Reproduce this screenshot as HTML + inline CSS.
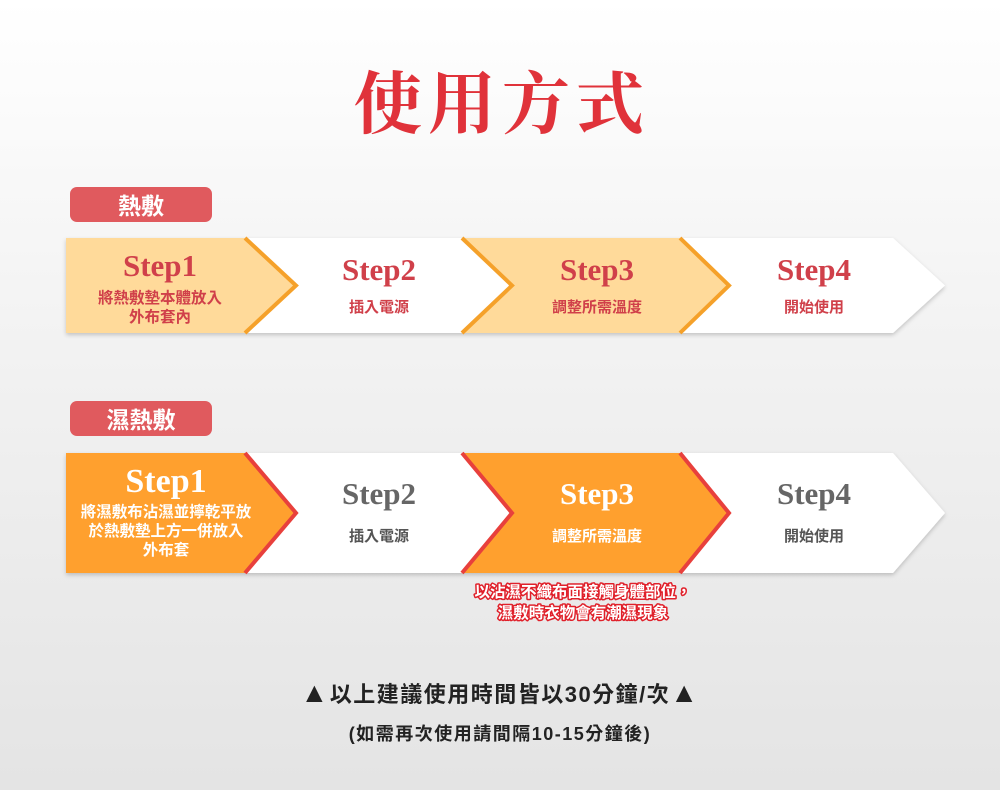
<!DOCTYPE html>
<html><head><meta charset="utf-8"><style>
html,body{margin:0;padding:0}
body{width:1000px;height:790px;overflow:hidden;background:linear-gradient(#ffffff 0%,#f3f3f3 40%,#e4e4e4 100%);}
svg text{font-family:"Liberation Sans","Noto Sans CJK TC",sans-serif;font-weight:bold}
.st{font-family:"Liberation Serif","Noto Serif CJK SC",serif !important;font-size:31px}
</style></head><body>
<svg width="1000" height="790" xmlns="http://www.w3.org/2000/svg">
<defs><filter id="sh" x="-5%" y="-10%" width="110%" height="130%"><feDropShadow dx="0" dy="2" stdDeviation="2" flood-color="#000" flood-opacity="0.2"/></filter></defs>
<text x="502" y="128" text-anchor="middle" font-size="68" fill="#E0323A" style="font-family:'Noto Serif CJK SC',serif;letter-spacing:6px">使用方式</text>

<rect x="70" y="187" width="142" height="35" rx="7" fill="#E05A5E"/>
<text x="141" y="214" text-anchor="middle" font-size="23" fill="#fff">熱敷</text>

<g filter="url(#sh)">
<polygon points="66,238 893,238 945,285.5 893,333 66,333" fill="#fff"/>
</g>
<polygon points="66,238 245,238 297,285.5 245,333 66,333" fill="#FFDA9A"/>
<polygon points="462,238 680,238 730,285.5 680,333 462,333 513,285.5" fill="#FFDA9A"/>
<g fill="none" stroke="#F5A12A" stroke-width="4">
<polyline points="245,238 296,285.5 245,333"/>
<polyline points="462,238 512,285.5 462,333"/>
<polyline points="680,238 729,285.5 680,333"/>
</g>
<text class="st" x="160" y="276" text-anchor="middle" fill="#D0404A">Step1</text>
<text x="160" y="303" text-anchor="middle" font-size="15.5" fill="#D0404A">將熱敷墊本體放入</text>
<text x="160" y="322" text-anchor="middle" font-size="15.5" fill="#D0404A">外布套內</text>
<text class="st" x="379" y="280" text-anchor="middle" fill="#D0404A">Step2</text>
<text x="379" y="312" text-anchor="middle" font-size="15" fill="#D0404A">插入電源</text>
<text class="st" x="597" y="280" text-anchor="middle" fill="#D0404A">Step3</text>
<text x="597" y="312" text-anchor="middle" font-size="15" fill="#D0404A">調整所需溫度</text>
<text class="st" x="814" y="280" text-anchor="middle" fill="#D0404A">Step4</text>
<text x="814" y="312" text-anchor="middle" font-size="15" fill="#D0404A">開始使用</text>

<rect x="70" y="401" width="142" height="35" rx="7" fill="#E05A5E"/>
<text x="141" y="428" text-anchor="middle" font-size="23" fill="#fff">濕熱敷</text>

<g filter="url(#sh)">
<polygon points="66,453 893,453 945,513 893,573 66,573" fill="#fff"/>
</g>
<polygon points="66,453 245,453 297,513 245,573 66,573" fill="#FFA02E"/>
<polygon points="462,453 680,453 730,513 680,573 462,573 513,513" fill="#FFA02E"/>
<g fill="none" stroke="#E8403C" stroke-width="4">
<polyline points="245,453 296,513 245,573"/>
<polyline points="462,453 512,513 462,573"/>
<polyline points="680,453 729,513 680,573"/>
</g>
<text class="st" x="166" y="492" text-anchor="middle" fill="#fff" style="font-size:34px">Step1</text>
<text x="166" y="517" text-anchor="middle" font-size="15.5" fill="#fff">將濕敷布沾濕並擰乾平放</text>
<text x="166" y="536" text-anchor="middle" font-size="15.5" fill="#fff">於熱敷墊上方一併放入</text>
<text x="166" y="555" text-anchor="middle" font-size="15.5" fill="#fff">外布套</text>
<text class="st" x="379" y="504" text-anchor="middle" fill="#666">Step2</text>
<text x="379" y="541" text-anchor="middle" font-size="15" fill="#555">插入電源</text>
<text class="st" x="597" y="504" text-anchor="middle" fill="#fff">Step3</text>
<text x="597" y="541" text-anchor="middle" font-size="15" fill="#fff">調整所需溫度</text>
<text class="st" x="814" y="504" text-anchor="middle" fill="#666">Step4</text>
<text x="814" y="541" text-anchor="middle" font-size="15" fill="#555">開始使用</text>

<g font-size="15.5" text-anchor="middle" fill="#fff" stroke="#E0202A" stroke-width="3" paint-order="stroke" stroke-linejoin="round">
<text x="583" y="597">以沾濕不織布面接觸身體部位，</text>
<text x="583" y="618">濕敷時衣物會有潮濕現象</text>
</g>

<text x="500" y="702" text-anchor="middle" font-size="22" fill="#222" style="letter-spacing:1.5px"><tspan font-size="28">▲</tspan>以上建議使用時間皆以30分鐘/次<tspan font-size="28">▲</tspan></text>
<text x="500" y="740" text-anchor="middle" font-size="18" fill="#222" style="letter-spacing:1.5px">(如需再次使用請間隔10-15分鐘後)</text>
</svg>
</body></html>
